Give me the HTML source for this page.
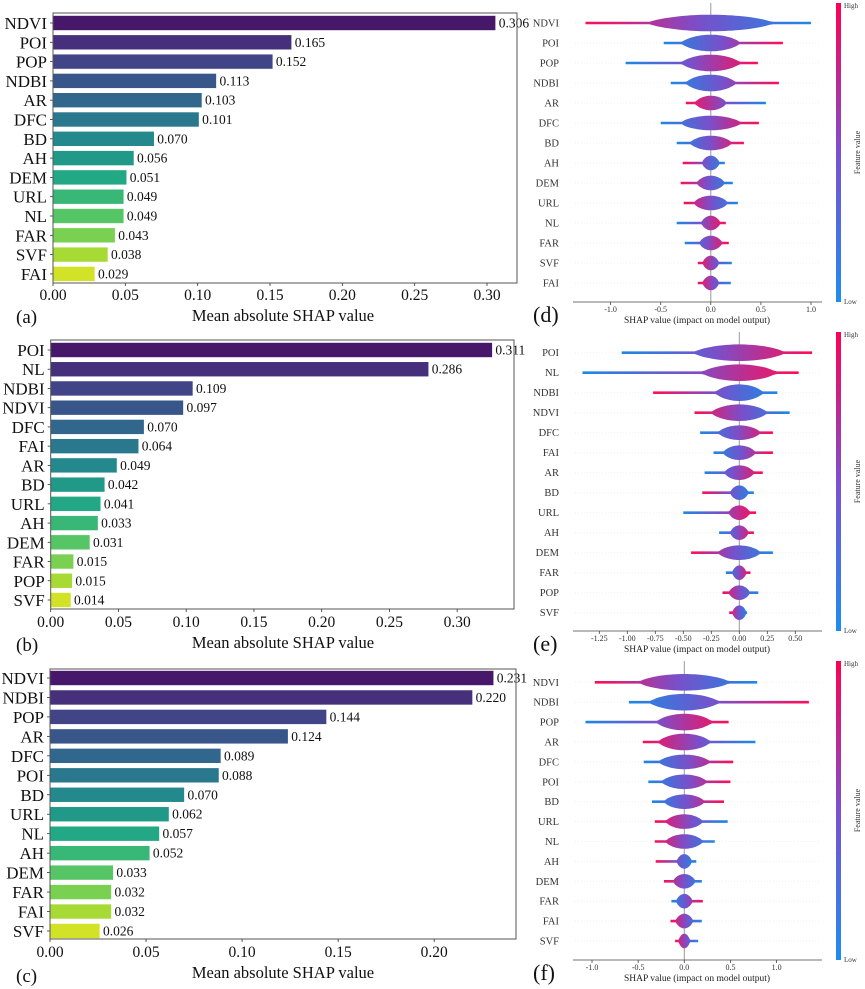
<!DOCTYPE html>
<html><head><meta charset="utf-8"><style>
html,body{margin:0;padding:0;background:#fff;}
svg{display:block;font-family:"Liberation Serif",serif;}
</style></head><body>
<svg id="fig" width="865" height="989" viewBox="0 0 865 989" xmlns="http://www.w3.org/2000/svg">
<defs>
<linearGradient id="cbGrad" x1="0" y1="0" x2="0" y2="1">
<stop offset="0" stop-color="#ff0052"/><stop offset="0.5" stop-color="#7d4fd0"/><stop offset="1" stop-color="#1e8cf0"/>
</linearGradient>
<linearGradient id="posGrad" x1="0" y1="0" x2="1" y2="0">
<stop offset="0" stop-color="#1e88e5"/><stop offset="0.5" stop-color="#7a4fc9"/><stop offset="1" stop-color="#ff0d57"/>
</linearGradient>
<linearGradient id="negGrad" x1="0" y1="0" x2="1" y2="0">
<stop offset="0" stop-color="#ff0d57"/><stop offset="0.5" stop-color="#7a4fc9"/><stop offset="1" stop-color="#1e88e5"/>
</linearGradient>
</defs>
</svg>
<script>
// ---- bar chart data ----
const featA = ["NDVI","POI","POP","NDBI","AR","DFC","BD","AH","DEM","URL","NL","FAR","SVF","FAI"];
const valsA = [0.306,0.165,0.152,0.113,0.103,0.101,0.070,0.056,0.051,0.049,0.049,0.043,0.038,0.029];
const featB = ["POI","NL","NDBI","NDVI","DFC","FAI","AR","BD","URL","AH","DEM","FAR","POP","SVF"];
const valsB = [0.326,0.279,0.105,0.098,0.069,0.065,0.049,0.040,0.037,0.035,0.029,0.017,0.016,0.015];
const labelsB = ["0.311","0.286","0.109","0.097","0.070","0.064","0.049","0.042","0.041","0.033","0.031","0.015","0.015","0.014"];
const featC = ["NDVI","NDBI","POP","AR","DFC","POI","BD","URL","NL","AH","DEM","FAR","FAI","SVF"];
const valsC = [0.231,0.220,0.144,0.124,0.089,0.088,0.070,0.062,0.057,0.052,0.033,0.032,0.032,0.026];
const ticksAB = [0,0.05,0.10,0.15,0.20,0.25,0.30];
const ticksC = [0,0.05,0.10,0.15,0.20];

// ---- beeswarm data: feature, min, max, polarity(+1 high->positive) ----
const featD = ["NDVI","POI","POP","NDBI","AR","DFC","BD","AH","DEM","URL","NL","FAR","SVF","FAI"];
const minD = [-1.25,-0.47,-0.85,-0.40,-0.25,-0.50,-0.34,-0.28,-0.30,-0.27,-0.34,-0.26,-0.13,-0.13];
const maxD = [1.00,0.72,0.47,0.68,0.55,0.48,0.33,0.14,0.22,0.27,0.15,0.18,0.21,0.20];
const polD = [-1,1,1,1,-1,1,1,-1,-1,-1,1,1,-1,-1];
const featE = ["POI","NL","NDBI","NDVI","DFC","FAI","AR","BD","URL","AH","DEM","FAR","POP","SVF"];
const minE = [-1.05,-1.40,-0.77,-0.40,-0.35,-0.23,-0.31,-0.33,-0.50,-0.18,-0.43,-0.12,-0.15,-0.09];
const maxE = [0.65,0.53,0.34,0.45,0.30,0.30,0.21,0.13,0.15,0.13,0.30,0.10,0.17,0.07];
const polE = [1,1,-1,-1,1,1,1,-1,1,1,-1,1,-1,-1];
const featF = ["NDVI","NDBI","POP","AR","DFC","POI","BD","URL","NL","AH","DEM","FAR","FAI","SVF"];
const minF = [-0.97,-0.60,-1.07,-0.45,-0.44,-0.39,-0.35,-0.32,-0.32,-0.31,-0.22,-0.14,-0.15,-0.10];
const maxF = [0.79,1.35,0.48,0.77,0.53,0.50,0.43,0.47,0.33,0.13,0.19,0.20,0.19,0.15];
const polF = [-1,1,1,-1,1,1,1,-1,-1,-1,-1,1,-1,-1];
const ticksD = [-1,-0.5,0,0.5,1];
const tickLabD = ["-1.0","-0.5","0.0","0.5","1.0"];
const ticksE = [-1.25,-1,-0.75,-0.5,-0.25,0,0.25,0.5];
const tickLabE = ["-1.25","-1.00","-0.75","-0.50","-0.25","0.00","0.25","0.50"];

const NS="http://www.w3.org/2000/svg";
const svg=document.getElementById('fig');
function mk(tag,attrs,parent,text){const e=document.createElementNS(NS,tag);for(const k in attrs)e.setAttribute(k,attrs[k]);if(text!==undefined)e.textContent=text;(parent||svg).appendChild(e);return e;}

const vir=[[68,1,84],[72,36,117],[65,68,135],[53,95,141],[42,120,142],[33,145,140],[34,168,132],[68,191,112],[122,209,81],[189,223,38],[253,231,37]];
function viridis(t){const p=t*10,i=Math.min(9,Math.floor(p)),f=p-i;const a=vir[i],b=vir[i+1];return 'rgb('+a.map((v,k)=>Math.round(v+(b[k]-v)*f)).join(',')+')';}

function barPanel(cfg,feats,vals,labels,ticks,tag){
  const g=mk('g',{});
  
  
  const xs=v=>cfg.x0+v*cfg.scale;
  const ys=i=>cfg.first+i*cfg.pitch;
  feats.forEach((f,i)=>{
    const r=mk('rect',{x:cfg.x0,y:ys(i)-7.5,width:Math.max(0,xs(vals[i])-cfg.x0),height:15,fill:viridis((i+1)/15),stroke:'#fff','stroke-width':0.6},g);
    
    
    const t=mk('text',{x:xs(vals[i])+3,y:ys(i)+4.5,'font-size':13.5,fill:'#111'},g,labels?labels[i]:vals[i].toFixed(3));
    
    
    const yl=mk('text',{x:cfg.x0-6,y:ys(i)+6,'font-size':17,'text-anchor':'end',fill:'#111'},g,f);
    
    
    mk('line',{x1:cfg.x0-3,x2:cfg.x0,y1:ys(i),y2:ys(i),stroke:'#333','stroke-width':0.8},g);
  });
  const box=mk('rect',{x:cfg.x0,y:cfg.y0,width:cfg.x1-cfg.x0,height:cfg.y1-cfg.y0,fill:'none',stroke:'#555','stroke-width':1},g);
  
  
  ticks.forEach(v=>{
    mk('line',{x1:xs(v),x2:xs(v),y1:cfg.y1,y2:cfg.y1+3,stroke:'#333','stroke-width':0.8},g);
    const tl=mk('text',{x:xs(v),y:cfg.tickY,'font-size':15.5,'text-anchor':'middle',fill:'#111'},g,v.toFixed(2));
    
    
  });
  const xl=mk('text',{x:283,y:cfg.xlY,'font-size':16.5,'text-anchor':'middle',fill:'#111'},g,'Mean absolute SHAP value');
  
  
  const tg=mk('text',{x:16,y:cfg.tagY,'font-size':19,fill:'#111'},g,'('+tag+')');
  
  
}

barPanel({x0:53,x1:517,y0:13,y1:283,scale:1446.7,first:23,pitch:19.3,tickY:300,xlY:321,tagY:323},featA,valsA,null,ticksAB,'a');
barPanel({x0:50.7,x1:514,y0:340,y1:609,scale:1355,first:350,pitch:19.23,tickY:627,xlY:648,tagY:651},featB,valsB,labelsB,ticksAB,'b');
barPanel({x0:50,x1:516,y0:669,y1:939,scale:1921,first:678,pitch:19.46,tickY:957,xlY:978,tagY:982},featC,valsC,null,ticksC,'c');

function swarmPanel(cfg,feats,mins,maxs,pols,ticks,tickLabs,tag){
  const g=mk('g',{});
  
  
  const xs=v=>cfg.zero+v*cfg.scale;
  const ys=i=>cfg.first+i*cfg.pitch;
  feats.forEach((f,i)=>{
    mk('line',{x1:575,x2:820,y1:ys(i),y2:ys(i),stroke:'#f0f0f0','stroke-width':1,'stroke-dasharray':'1,2'},g);
  });
  mk('line',{x1:cfg.zero,x2:cfg.zero,y1:cfg.top,y2:cfg.axisY,stroke:'#999','stroke-width':1},g);
  feats.forEach((f,i)=>{
    const a=mins[i],b=maxs[i],y=ys(i);
    const half=Math.max(0.06,0.6*Math.min(-a,b));
    const H=i<4?7:6;
    const N=60,top=[],bot=[];
    for(let k=0;k<=N;k++){
      const v=a+(b-a)*k/N;
      const u=v/half;
      const h=1.3+H*Math.pow(Math.max(0,1-u*u),0.8);
      top.push(xs(v).toFixed(1)+','+(y-h).toFixed(1));
      bot.unshift(xs(v).toFixed(1)+','+(y+h).toFixed(1));
    }
    const p=mk('polygon',{points:top.concat(bot).join(' '),fill:pols[i]>0?'url(#posGrad)':'url(#negGrad)'},g);
    
    
    const yl=mk('text',{x:559,y:y+3.5,'font-size':10.5,'text-anchor':'end',fill:'#333'},g,f);
    
    
  });
  mk('line',{x1:573,x2:822,y1:cfg.axisY,y2:cfg.axisY,stroke:'#444','stroke-width':0.8},g);
  ticks.forEach((v,k)=>{
    mk('line',{x1:xs(v),x2:xs(v),y1:cfg.axisY,y2:cfg.axisY+3,stroke:'#444','stroke-width':0.8},g);
    const tl=mk('text',{x:xs(v),y:cfg.axisY+10,'font-size':8,'text-anchor':'middle',fill:'#333'},g,tickLabs[k]);
    
    
  });
  const xl=mk('text',{x:697,y:cfg.axisY+21,'font-size':9.5,'text-anchor':'middle',fill:'#222'},g,'SHAP value (impact on model output)');
  
  
  const cb=mk('rect',{x:836,y:cfg.top,width:5,height:cfg.axisY-cfg.top,fill:'url(#cbGrad)'},g);
  
  
  const hi=mk('text',{x:844,y:cfg.top+5,'font-size':7,fill:'#333'},g,'High');
  
  
  const lo=mk('text',{x:844,y:cfg.axisY+2,'font-size':7,fill:'#333'},g,'Low');
  
  
  const cy=(cfg.top+cfg.axisY)/2;
  const ft=mk('text',{x:860,y:cy,'font-size':8,'text-anchor':'middle',fill:'#333',transform:'rotate(-90 860 '+cy+')'},g,'Feature value');
  
  
  const tg=mk('text',{x:533,y:cfg.axisY+20,'font-size':22,fill:'#111'},g,'('+tag+')');
  
  
}

swarmPanel({zero:710.8,scale:100.2,first:23,pitch:20,axisY:302,top:3},featD,minD,maxD,polD,ticksD,tickLabD,'d');
swarmPanel({zero:739.3,scale:112,first:352.7,pitch:20,axisY:631,top:332},featE,minE,maxE,polE,ticksE,tickLabE,'e');
swarmPanel({zero:684.3,scale:92.3,first:682.3,pitch:19.9,axisY:960,top:661},featF,minF,maxF,polF,ticksD,tickLabD,'f');
</script>
</body></html>
